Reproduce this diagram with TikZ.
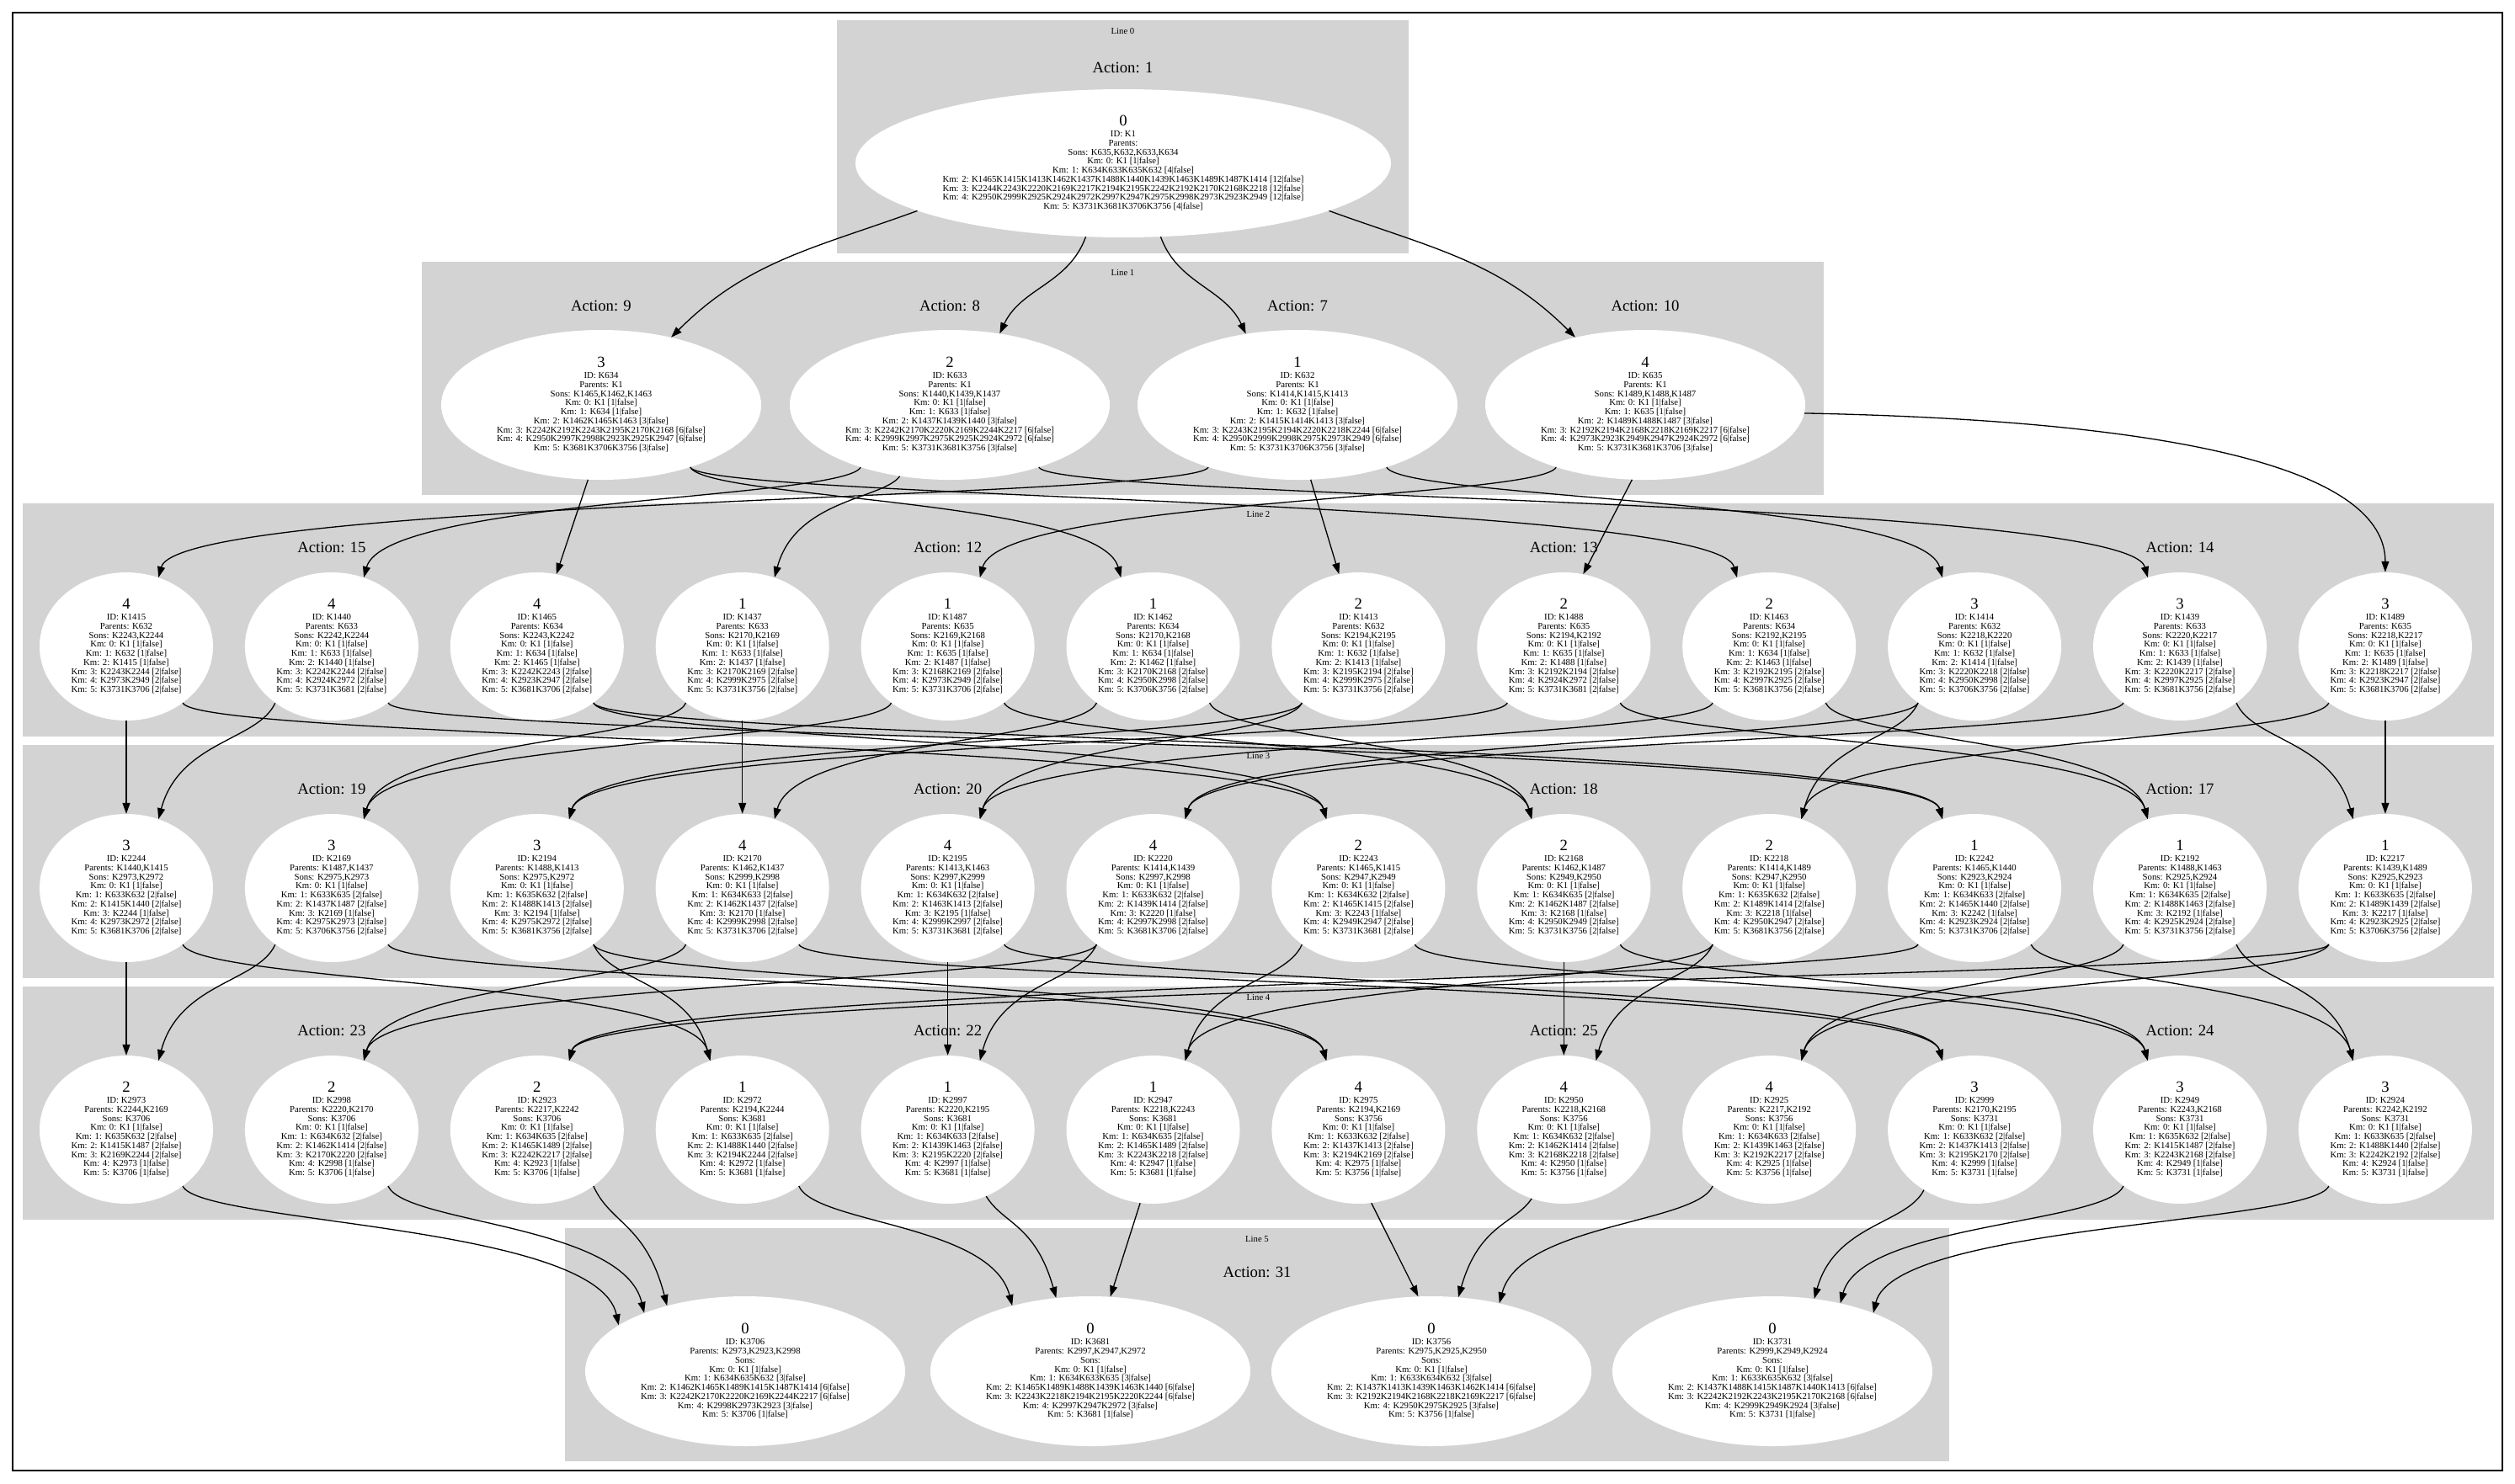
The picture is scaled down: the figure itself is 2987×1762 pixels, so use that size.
\documentclass[tikz,border=0pt]{standalone}
\usepackage{fontspec}
\setmainfont{Liberation Serif}
\usetikzlibrary{shapes.geometric,arrows.meta,calc}
\definecolor{clgray}{RGB}{211,211,211}
\newcommand\FL[1]{[#1\textbar false]}
\newcommand\NUMF{\fontsize{18.7}{18.7}\selectfont}
\newcommand\KN[5]{\node[#2] (#1) at #3 {};\node[ktext] (#1t) at (#1.center) {{\NUMF #4}\\[2.6pt]#5};}
% line 2 nodes
\newcommand\NB[8]{\KN{#1}{e2}{(#2,-768)}{#3}{ID: #1\\Parents: #4\\Sons: #5\\Km: 0: K1 \FL{1}\\Km: 1: #4 \FL{1}\\Km: 2: #1 \FL{1}\\Km: 3: #6 \FL{2}\\Km: 4: #7 \FL{2}\\Km: 5: #8 \FL{2}}}
% line 3 nodes
\newcommand\NC[9]{\KN{#1}{e2}{(#2,-1055)}{#3}{ID: #1\\Parents: #4\\Sons: #5\\Km: 0: K1 \FL{1}\\Km: 1: #6 \FL{2}\\Km: 2: #7 \FL{2}\\Km: 3: #1 \FL{1}\\Km: 4: #8 \FL{2}\\Km: 5: #9 \FL{2}}}
% line 4 nodes
\newcommand\ND[8]{\KN{#1}{e2}{(#2,-1342)}{#3}{ID: #1\\Parents: #4\\Sons: #5\\Km: 0: K1 \FL{1}\\Km: 1: #6 \FL{2}\\Km: 2: #7 \FL{2}\\Km: 3: #8 \FL{2}\\Km: 4: #1 \FL{1}\\Km: 5: #5 \FL{1}}}
% edges
\newcommand\ER[5]{\draw[kedge] (#1.#3) .. controls ($(#1.#3 |- #5)+(20,0)$) and ($(#2.#4 |- #5)+(-25,0)$) .. (#2.#4);}
\newcommand\EL[5]{\draw[kedge] (#1.#3) .. controls ($(#1.#3 |- #5)+(-20,0)$) and ($(#2.#4 |- #5)+(25,0)$) .. (#2.#4);}
\newcommand\ES[4]{\draw[kedge] (#1.#3) -- (#2.#4);}
\newcommand\ED[2]{\draw[kedge] (#1.south) -- (#2.north);}
\tikzset{
 kell/.style={ellipse, fill=white, draw=none, inner sep=0pt},
 e0/.style={kell, minimum width=636pt, minimum height=176pt},
 e1/.style={kell, minimum width=380pt, minimum height=178pt},
 e2/.style={kell, minimum width=206pt, minimum height=176pt},
 ktext/.style={align=center, inner sep=0pt, font=\fontsize{10.75}{10.75}\selectfont},
 actlbl/.style={font=\fontsize{18.7}{20}\selectfont, inner sep=0pt},
 linelbl/.style={font=\fontsize{10.7}{12}\selectfont, inner sep=0pt},
 kedge/.style={draw=black, line width=1.3pt, -{Triangle[length=13pt,width=9pt]}}
}
\begin{document}
\begin{tikzpicture}[x=1pt,y=1pt]
\useasboundingbox (0,0) rectangle (2987,-1762);
\fill[white] (0,0) rectangle (2987,-1762);
\draw[line width=1.3pt] (15,-15) rectangle (2972,-1747);
% clusters
\fill[clgray] (994,-24) rectangle (1673,-301);
\fill[clgray] (501,-311) rectangle (2166,-588);
\fill[clgray] (27,-598) rectangle (2962,-875);
\fill[clgray] (27,-885) rectangle (2962,-1162);
\fill[clgray] (27,-1172) rectangle (2962,-1449);
\fill[clgray] (671,-1459) rectangle (2315,-1736);
% gap coordinates
\coordinate (g12) at (0,-593);
\coordinate (g23) at (0,-880);
\coordinate (g34) at (0,-1167);
\coordinate (g45) at (0,-1454);
% labels
\node[linelbl] (L0) at (1333.5,-37) {Line 0};
\node[actlbl] (A1) at (1333.5,-80) {Action: 1};
\node[linelbl] (L1) at (1333.5,-324) {Line 1};
\node[actlbl] (A9) at (714,-363) {Action: 9};
\node[actlbl] (A8) at (1128,-363) {Action: 8};
\node[actlbl] (A7) at (1541,-363) {Action: 7};
\node[actlbl] (A10) at (1954,-363) {Action: 10};
\node[linelbl] (L2) at (1494.5,-611) {Line 2};
\node[actlbl] (A15) at (393.9,-650) {Action: 15};
\node[actlbl] (A12) at (1125.6,-650) {Action: 12};
\node[actlbl] (A13) at (1857.3,-650) {Action: 13};
\node[actlbl] (A14) at (2589,-650) {Action: 14};
\node[linelbl] (L3) at (1494.5,-898) {Line 3};
\node[actlbl] (A19) at (393.9,-937) {Action: 19};
\node[actlbl] (A20) at (1125.6,-937) {Action: 20};
\node[actlbl] (A18) at (1857.3,-937) {Action: 18};
\node[actlbl] (A17) at (2589,-937) {Action: 17};
\node[linelbl] (L4) at (1494.5,-1185) {Line 4};
\node[actlbl] (A23) at (393.9,-1224) {Action: 23};
\node[actlbl] (A22) at (1125.6,-1224) {Action: 22};
\node[actlbl] (A25) at (1857.3,-1224) {Action: 25};
\node[actlbl] (A24) at (2589,-1224) {Action: 24};
\node[linelbl] (L5) at (1493,-1472) {Line 5};
\node[actlbl] (A31) at (1493,-1511) {Action: 31};
% line 0
\KN{K1}{e0}{(1334,-194)}{0}{ID: K1\\Parents:\\Sons: K635,K632,K633,K634\\Km: 0: K1 \FL{1}\\Km: 1: K634K633K635K632 \FL{4}\\Km: 2: K1465K1415K1413K1462K1437K1488K1440K1439K1463K1489K1487K1414 \FL{12}\\Km: 3: K2244K2243K2220K2169K2217K2194K2195K2242K2192K2170K2168K2218 \FL{12}\\Km: 4: K2950K2999K2925K2924K2972K2997K2947K2975K2998K2973K2923K2949 \FL{12}\\Km: 5: K3731K3681K3706K3756 \FL{4}}
% line 1
\KN{K634}{e1}{(714,-481)}{3}{ID: K634\\Parents: K1\\Sons: K1465,K1462,K1463\\Km: 0: K1 \FL{1}\\Km: 1: K634 \FL{1}\\Km: 2: K1462K1465K1463 \FL{3}\\Km: 3: K2242K2192K2243K2195K2170K2168 \FL{6}\\Km: 4: K2950K2997K2998K2923K2925K2947 \FL{6}\\Km: 5: K3681K3706K3756 \FL{3}}
\KN{K633}{e1}{(1128,-481)}{2}{ID: K633\\Parents: K1\\Sons: K1440,K1439,K1437\\Km: 0: K1 \FL{1}\\Km: 1: K633 \FL{1}\\Km: 2: K1437K1439K1440 \FL{3}\\Km: 3: K2242K2170K2220K2169K2244K2217 \FL{6}\\Km: 4: K2999K2997K2975K2925K2924K2972 \FL{6}\\Km: 5: K3731K3681K3756 \FL{3}}
\KN{K632}{e1}{(1541,-481)}{1}{ID: K632\\Parents: K1\\Sons: K1414,K1415,K1413\\Km: 0: K1 \FL{1}\\Km: 1: K632 \FL{1}\\Km: 2: K1415K1414K1413 \FL{3}\\Km: 3: K2243K2195K2194K2220K2218K2244 \FL{6}\\Km: 4: K2950K2999K2998K2975K2973K2949 \FL{6}\\Km: 5: K3731K3706K3756 \FL{3}}
\KN{K635}{e1}{(1954,-481)}{4}{ID: K635\\Parents: K1\\Sons: K1489,K1488,K1487\\Km: 0: K1 \FL{1}\\Km: 1: K635 \FL{1}\\Km: 2: K1489K1488K1487 \FL{3}\\Km: 3: K2192K2194K2168K2218K2169K2217 \FL{6}\\Km: 4: K2973K2923K2949K2947K2924K2972 \FL{6}\\Km: 5: K3731K3681K3706 \FL{3}}
% line 2
\NB{K1415}{150}{4}{K632}{K2243,K2244}{K2243K2244}{K2973K2949}{K3731K3706}
\NB{K1440}{393.9}{4}{K633}{K2242,K2244}{K2242K2244}{K2924K2972}{K3731K3681}
\NB{K1465}{637.8}{4}{K634}{K2243,K2242}{K2242K2243}{K2923K2947}{K3681K3706}
\NB{K1437}{881.7}{1}{K633}{K2170,K2169}{K2170K2169}{K2999K2975}{K3731K3756}
\NB{K1487}{1125.6}{1}{K635}{K2169,K2168}{K2168K2169}{K2973K2949}{K3731K3706}
\NB{K1462}{1369.5}{1}{K634}{K2170,K2168}{K2170K2168}{K2950K2998}{K3706K3756}
\NB{K1413}{1613.4}{2}{K632}{K2194,K2195}{K2195K2194}{K2999K2975}{K3731K3756}
\NB{K1488}{1857.3}{2}{K635}{K2194,K2192}{K2192K2194}{K2924K2972}{K3731K3681}
\NB{K1463}{2101.2}{2}{K634}{K2192,K2195}{K2192K2195}{K2997K2925}{K3681K3756}
\NB{K1414}{2345.1}{3}{K632}{K2218,K2220}{K2220K2218}{K2950K2998}{K3706K3756}
\NB{K1439}{2589}{3}{K633}{K2220,K2217}{K2220K2217}{K2997K2925}{K3681K3756}
\NB{K1489}{2832.9}{3}{K635}{K2218,K2217}{K2218K2217}{K2923K2947}{K3681K3706}
% line 3
\NC{K2244}{150}{3}{K1440,K1415}{K2973,K2972}{K633K632}{K1415K1440}{K2973K2972}{K3681K3706}
\NC{K2169}{393.9}{3}{K1487,K1437}{K2975,K2973}{K633K635}{K1437K1487}{K2975K2973}{K3706K3756}
\NC{K2194}{637.8}{3}{K1488,K1413}{K2975,K2972}{K635K632}{K1488K1413}{K2975K2972}{K3681K3756}
\NC{K2170}{881.7}{4}{K1462,K1437}{K2999,K2998}{K634K633}{K1462K1437}{K2999K2998}{K3731K3706}
\NC{K2195}{1125.6}{4}{K1413,K1463}{K2997,K2999}{K634K632}{K1463K1413}{K2999K2997}{K3731K3681}
\NC{K2220}{1369.5}{4}{K1414,K1439}{K2997,K2998}{K633K632}{K1439K1414}{K2997K2998}{K3681K3706}
\NC{K2243}{1613.4}{2}{K1465,K1415}{K2947,K2949}{K634K632}{K1465K1415}{K2949K2947}{K3731K3681}
\NC{K2168}{1857.3}{2}{K1462,K1487}{K2949,K2950}{K634K635}{K1462K1487}{K2950K2949}{K3731K3756}
\NC{K2218}{2101.2}{2}{K1414,K1489}{K2947,K2950}{K635K632}{K1489K1414}{K2950K2947}{K3681K3756}
\NC{K2242}{2345.1}{1}{K1465,K1440}{K2923,K2924}{K634K633}{K1465K1440}{K2923K2924}{K3731K3706}
\NC{K2192}{2589}{1}{K1488,K1463}{K2925,K2924}{K634K635}{K1488K1463}{K2925K2924}{K3731K3756}
\NC{K2217}{2832.9}{1}{K1439,K1489}{K2925,K2923}{K633K635}{K1489K1439}{K2923K2925}{K3706K3756}
% line 4
\ND{K2973}{150}{2}{K2244,K2169}{K3706}{K635K632}{K1415K1487}{K2169K2244}
\ND{K2998}{393.9}{2}{K2220,K2170}{K3706}{K634K632}{K1462K1414}{K2170K2220}
\ND{K2923}{637.8}{2}{K2217,K2242}{K3706}{K634K635}{K1465K1489}{K2242K2217}
\ND{K2972}{881.7}{1}{K2194,K2244}{K3681}{K633K635}{K1488K1440}{K2194K2244}
\ND{K2997}{1125.6}{1}{K2220,K2195}{K3681}{K634K633}{K1439K1463}{K2195K2220}
\ND{K2947}{1369.5}{1}{K2218,K2243}{K3681}{K634K635}{K1465K1489}{K2243K2218}
\ND{K2975}{1613.4}{4}{K2194,K2169}{K3756}{K633K632}{K1437K1413}{K2194K2169}
\ND{K2950}{1857.3}{4}{K2218,K2168}{K3756}{K634K632}{K1462K1414}{K2168K2218}
\ND{K2925}{2101.2}{4}{K2217,K2192}{K3756}{K634K633}{K1439K1463}{K2192K2217}
\ND{K2999}{2345.1}{3}{K2170,K2195}{K3731}{K633K632}{K1437K1413}{K2195K2170}
\ND{K2949}{2589}{3}{K2243,K2168}{K3731}{K635K632}{K1415K1487}{K2243K2168}
\ND{K2924}{2832.9}{3}{K2242,K2192}{K3731}{K633K635}{K1488K1440}{K2242K2192}
% line 5
\KN{K3706}{e1}{(885,-1629)}{0}{ID: K3706\\Parents: K2973,K2923,K2998\\Sons:\\Km: 0: K1 \FL{1}\\Km: 1: K634K635K632 \FL{3}\\Km: 2: K1462K1465K1489K1415K1487K1414 \FL{6}\\Km: 3: K2242K2170K2220K2169K2244K2217 \FL{6}\\Km: 4: K2998K2973K2923 \FL{3}\\Km: 5: K3706 \FL{1}}
\KN{K3681}{e1}{(1295,-1629)}{0}{ID: K3681\\Parents: K2997,K2947,K2972\\Sons:\\Km: 0: K1 \FL{1}\\Km: 1: K634K633K635 \FL{3}\\Km: 2: K1465K1489K1488K1439K1463K1440 \FL{6}\\Km: 3: K2243K2218K2194K2195K2220K2244 \FL{6}\\Km: 4: K2997K2947K2972 \FL{3}\\Km: 5: K3681 \FL{1}}
\KN{K3756}{e1}{(1700,-1629)}{0}{ID: K3756\\Parents: K2975,K2925,K2950\\Sons:\\Km: 0: K1 \FL{1}\\Km: 1: K633K634K632 \FL{3}\\Km: 2: K1437K1413K1439K1463K1462K1414 \FL{6}\\Km: 3: K2192K2194K2168K2218K2169K2217 \FL{6}\\Km: 4: K2950K2975K2925 \FL{3}\\Km: 5: K3756 \FL{1}}
\KN{K3731}{e1}{(2105,-1629)}{0}{ID: K3731\\Parents: K2999,K2949,K2924\\Sons:\\Km: 0: K1 \FL{1}\\Km: 1: K633K635K632 \FL{3}\\Km: 2: K1437K1488K1415K1487K1440K1413 \FL{6}\\Km: 3: K2242K2192K2243K2195K2170K2168 \FL{6}\\Km: 4: K2999K2949K2924 \FL{3}\\Km: 5: K3731 \FL{1}}
% edges line 0 -> 1
\draw[kedge] (K1.-167) to[out=-160,in=45] (K634.44);
\draw[kedge] (K1.-117) to[out=-110,in=65] (K633.55);
\draw[kedge] (K1.-63) to[out=-70,in=115] (K632.126);
\draw[kedge] (K1.-13) to[out=-20,in=135] (K635.136);
% edges line 1 -> 2
\ES{K634}{K1465}{-100}{75}
\ER{K634}{K1462}{-35}{115}{g12}
\ER{K634}{K1463}{-35}{115}{g12}
\EL{K633}{K1440}{-145}{65}{g12}
\EL{K633}{K1437}{-125}{65}{g12}
\ER{K633}{K1439}{-35}{115}{g12}
\EL{K632}{K1415}{-145}{65}{g12}
\ES{K632}{K1413}{-80}{105}
\ER{K632}{K1414}{-35}{115}{g12}
\EL{K635}{K1487}{-145}{65}{g12}
\ES{K635}{K1488}{-100}{75}
\draw[kedge] (K635.-3) .. controls (2600,-500) and (2832.9,-560) .. (K1489.90);
% edges line 2 -> 3
\ED{K1415}{K2244}
\ER{K1415}{K2243}{-45}{115}{g23}
\EL{K1440}{K2244}{-135}{65}{g23}
\ER{K1440}{K2242}{-45}{115}{g23}
\ER{K1465}{K2243}{-45}{115}{g23}
\ER{K1465}{K2242}{-45}{115}{g23}
\ED{K1437}{K2170}
\EL{K1437}{K2169}{-135}{65}{g23}
\EL{K1487}{K2169}{-135}{65}{g23}
\ER{K1487}{K2168}{-45}{115}{g23}
\EL{K1462}{K2170}{-135}{65}{g23}
\ER{K1462}{K2168}{-45}{115}{g23}
\EL{K1413}{K2194}{-135}{65}{g23}
\EL{K1413}{K2195}{-135}{65}{g23}
\EL{K1488}{K2194}{-135}{65}{g23}
\ER{K1488}{K2192}{-45}{115}{g23}
\ER{K1463}{K2192}{-45}{115}{g23}
\EL{K1463}{K2195}{-135}{65}{g23}
\EL{K1414}{K2218}{-135}{65}{g23}
\EL{K1414}{K2220}{-135}{65}{g23}
\EL{K1439}{K2220}{-135}{65}{g23}
\ER{K1439}{K2217}{-45}{115}{g23}
\EL{K1489}{K2218}{-135}{65}{g23}
\ED{K1489}{K2217}
% edges line 3 -> 4
\ED{K2244}{K2973}
\ER{K2244}{K2972}{-45}{115}{g34}
\EL{K2169}{K2973}{-135}{65}{g34}
\ER{K2169}{K2975}{-45}{115}{g34}
\ER{K2194}{K2975}{-45}{115}{g34}
\ER{K2194}{K2972}{-45}{115}{g34}
\ER{K2170}{K2999}{-45}{115}{g34}
\EL{K2170}{K2998}{-135}{65}{g34}
\ED{K2195}{K2997}
\ER{K2195}{K2999}{-45}{115}{g34}
\EL{K2220}{K2997}{-135}{65}{g34}
\EL{K2220}{K2998}{-135}{65}{g34}
\EL{K2243}{K2947}{-135}{65}{g34}
\ER{K2243}{K2949}{-45}{115}{g34}
\ER{K2168}{K2949}{-45}{115}{g34}
\ED{K2168}{K2950}
\EL{K2218}{K2947}{-135}{65}{g34}
\EL{K2218}{K2950}{-135}{65}{g34}
\EL{K2242}{K2923}{-135}{65}{g34}
\ER{K2242}{K2924}{-45}{115}{g34}
\EL{K2192}{K2925}{-135}{65}{g34}
\ER{K2192}{K2924}{-45}{115}{g34}
\EL{K2217}{K2925}{-135}{65}{g34}
\EL{K2217}{K2923}{-135}{65}{g34}
% edges line 4 -> 5
\ER{K2973}{K3706}{-45}{160}{g45}
\ER{K2998}{K3706}{-45}{150}{g45}
\ER{K2923}{K3706}{-45}{140}{g45}
\ER{K2972}{K3681}{-45}{140}{g45}
\ER{K2997}{K3681}{-60}{115}{g45}
\ES{K2947}{K3681}{-100}{75}
\ES{K2975}{K3756}{-80}{100}
\EL{K2950}{K3756}{-115}{70}{g45}
\EL{K2925}{K3756}{-135}{45}{g45}
\EL{K2999}{K3731}{-130}{60}{g45}
\EL{K2949}{K3731}{-135}{45}{g45}
\EL{K2924}{K3731}{-135}{30}{g45}
\end{tikzpicture}
\end{document}
